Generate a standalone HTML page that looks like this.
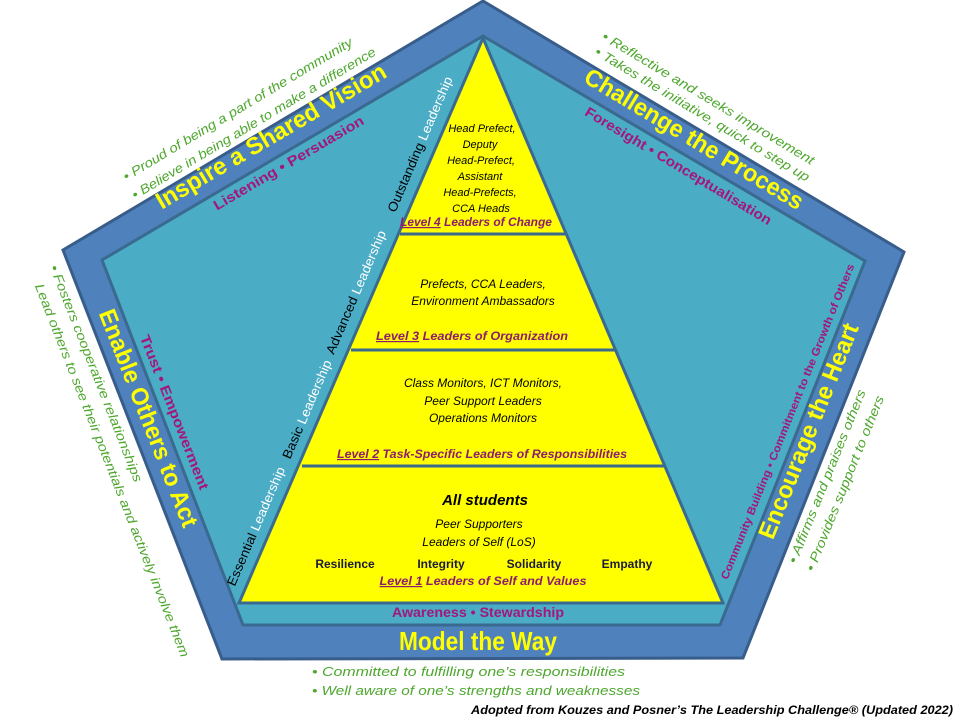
<!DOCTYPE html>
<html><head><meta charset="utf-8"><style>
html,body{margin:0;padding:0;background:#fff;}
svg{display:block;font-family:"Liberation Sans",sans-serif;}
.y{fill:#ffff00;font-weight:bold;}
.p{fill:#a3167a;font-weight:bold;}
.g{fill:#4ea72e;font-style:italic;}
.k{fill:#000;font-style:italic;}
.lv{fill:#8e1c6e;font-weight:bold;font-style:italic;font-size:12px;}
</style></head><body>
<svg width="960" height="720" viewBox="0 0 960 720">
<polygon points="483,1 904,252 743,658 222,659 63,250" fill="#4f81bd" stroke="#385d8a" stroke-width="3"/>
<polygon points="483,36 865,261 720,625 243,625 102,260" fill="#4bacc6" stroke="#3a6a8f" stroke-width="3"/>
<polygon points="483,38 723,603 239,603" fill="#ffff00" stroke="#3a6a8f" stroke-width="3"/>
<line x1="400" y1="234" x2="566" y2="234" stroke="#3a6a8f" stroke-width="3"/>
<line x1="351" y1="350" x2="615" y2="350" stroke="#3a6a8f" stroke-width="3"/>
<line x1="302" y1="466" x2="665" y2="466" stroke="#3a6a8f" stroke-width="3"/>

<!-- Top left -->
<text class="y" font-size="24" text-anchor="middle" transform="translate(275,143) rotate(-30.5)" textLength="263" lengthAdjust="spacingAndGlyphs">Inspire a Shared Vision</text>
<text class="p" font-size="14" text-anchor="middle" transform="translate(291,167) rotate(-30.5)" textLength="172" lengthAdjust="spacingAndGlyphs">Listening  •  Persuasion</text>
<text class="g" font-size="13" text-anchor="middle" transform="translate(240,113) rotate(-31)" textLength="265" lengthAdjust="spacingAndGlyphs">•  Proud of being a part of the community</text>
<text class="g" font-size="13" text-anchor="middle" transform="translate(256,127) rotate(-31)" textLength="282" lengthAdjust="spacingAndGlyphs">•  Believe in being able to make a difference</text>

<!-- Top right -->
<text class="y" font-size="24" text-anchor="middle" transform="translate(690,146) rotate(31)" textLength="251" lengthAdjust="spacingAndGlyphs">Challenge the Process</text>
<text class="p" font-size="14" text-anchor="middle" transform="translate(676,170) rotate(31)" textLength="215" lengthAdjust="spacingAndGlyphs">Foresight  •  Conceptualisation</text>
<text class="g" font-size="13" text-anchor="middle" transform="translate(706,102) rotate(31)" textLength="245" lengthAdjust="spacingAndGlyphs">•  Reflective and seeks improvement</text>
<text class="g" font-size="13" text-anchor="middle" transform="translate(700,118) rotate(31)" textLength="248" lengthAdjust="spacingAndGlyphs">•  Takes the initiative, quick to step up</text>

<!-- Right -->
<text class="y" font-size="24" text-anchor="middle" transform="translate(816,434) rotate(-68)" textLength="230" lengthAdjust="spacingAndGlyphs">Encourage the Heart</text>
<text class="p" font-size="11" text-anchor="middle" transform="translate(791,423) rotate(-68)" textLength="339" lengthAdjust="spacingAndGlyphs">Community Building  •  Commitment to the Growth of Others</text>
<text class="g" font-size="13" text-anchor="middle" transform="translate(831,478) rotate(-68)" textLength="186" lengthAdjust="spacingAndGlyphs">•  Affirms and praises others</text>
<text class="g" font-size="13" text-anchor="middle" transform="translate(849,485) rotate(-68)" textLength="188" lengthAdjust="spacingAndGlyphs">•  Provides support  to others</text>

<!-- Left -->
<text class="y" font-size="24" text-anchor="middle" transform="translate(141,421) rotate(68.5)" textLength="232" lengthAdjust="spacingAndGlyphs">Enable Others to Act</text>
<text class="p" font-size="14" text-anchor="middle" transform="translate(170,414) rotate(68.5)" textLength="165" lengthAdjust="spacingAndGlyphs">Trust  •  Empowerment</text>
<text class="g" font-size="13" text-anchor="middle" transform="translate(92,375) rotate(68.5)" textLength="232" lengthAdjust="spacingAndGlyphs">•  Fosters cooperative relationships</text>
<text class="g" font-size="13" text-anchor="middle" transform="translate(108,472) rotate(68.5)" textLength="400" lengthAdjust="spacingAndGlyphs">Lead others to see their potentials and actively involve them</text>

<!-- Bottom -->
<text class="p" font-size="14" text-anchor="middle" x="478" y="617" textLength="172" lengthAdjust="spacingAndGlyphs">Awareness  •  Stewardship</text>
<text class="y" font-size="26" text-anchor="middle" x="478" y="650" textLength="158" lengthAdjust="spacingAndGlyphs">Model the Way</text>
<text class="g" font-size="13" x="312" y="676" textLength="313" lengthAdjust="spacingAndGlyphs">•   Committed to fulfilling one’s responsibilities</text>
<text class="g" font-size="13" x="312" y="695" textLength="328" lengthAdjust="spacingAndGlyphs">•   Well aware of one’s strengths and weaknesses</text>
<text class="k" font-size="12" font-weight="bold" x="953" y="714" text-anchor="end" textLength="482" lengthAdjust="spacingAndGlyphs">Adopted from Kouzes and Posner’s The Leadership Challenge® (Updated 2022)</text>

<!-- Pyramid side labels -->
<g font-size="13">
<text text-anchor="middle" transform="translate(424,146) rotate(-66.8)" textLength="146" lengthAdjust="spacingAndGlyphs"><tspan fill="#000">Outstanding </tspan><tspan fill="#fff">Leadership</tspan></text>
<text text-anchor="middle" transform="translate(360,294) rotate(-66.8)" textLength="133" lengthAdjust="spacingAndGlyphs"><tspan fill="#000">Advanced </tspan><tspan fill="#fff">Leadership</tspan></text>
<text text-anchor="middle" transform="translate(311,411) rotate(-66.8)" textLength="106" lengthAdjust="spacingAndGlyphs"><tspan fill="#000">Basic </tspan><tspan fill="#fff">Leadership</tspan></text>
<text text-anchor="middle" transform="translate(260,528) rotate(-66.8)" textLength="128" lengthAdjust="spacingAndGlyphs"><tspan fill="#000">Essential </tspan><tspan fill="#fff">Leadership</tspan></text>
</g>

<!-- Level 4 -->
<g class="k" font-size="11" text-anchor="middle">
<text x="482" y="132">Head Prefect,</text>
<text x="480" y="148">Deputy</text>
<text x="481" y="164">Head-Prefect,</text>
<text x="480" y="180">Assistant</text>
<text x="480" y="196">Head-Prefects,</text>
<text x="481" y="212">CCA Heads</text>
</g>
<text class="lv" x="476" y="226" text-anchor="middle" textLength="152" lengthAdjust="spacingAndGlyphs"><tspan text-decoration="underline">Level 4</tspan> Leaders of Change</text>

<!-- Level 3 -->
<g class="k" font-size="12" text-anchor="middle">
<text x="483" y="288">Prefects, CCA Leaders,</text>
<text x="483" y="305">Environment Ambassadors</text>
</g>
<text class="lv" x="472" y="340" text-anchor="middle" textLength="192" lengthAdjust="spacingAndGlyphs"><tspan text-decoration="underline">Level 3</tspan> Leaders of Organization</text>

<!-- Level 2 -->
<g class="k" font-size="12" text-anchor="middle">
<text x="483" y="387">Class Monitors, ICT Monitors,</text>
<text x="483" y="405">Peer Support Leaders</text>
<text x="483" y="422">Operations Monitors</text>
</g>
<text class="lv" x="482" y="458" text-anchor="middle" textLength="290" lengthAdjust="spacingAndGlyphs"><tspan text-decoration="underline">Level 2</tspan> Task-Specific Leaders of Responsibilities</text>

<!-- Level 1 -->
<text class="k" font-size="15" font-weight="bold" x="485" y="505" text-anchor="middle">All students</text>
<g class="k" font-size="12" text-anchor="middle">
<text x="479" y="528">Peer Supporters</text>
<text x="479" y="546">Leaders of Self (LoS)</text>
</g>
<g font-size="12" font-weight="bold" fill="#1a1a3a" text-anchor="middle">
<text x="345" y="568">Resilience</text>
<text x="441" y="568">Integrity</text>
<text x="534" y="568">Solidarity</text>
<text x="627" y="568">Empathy</text>
</g>
<text class="lv" x="483" y="585" text-anchor="middle" textLength="207" lengthAdjust="spacingAndGlyphs"><tspan text-decoration="underline">Level 1</tspan>  Leaders of Self and Values</text>
</svg>
</body></html>
